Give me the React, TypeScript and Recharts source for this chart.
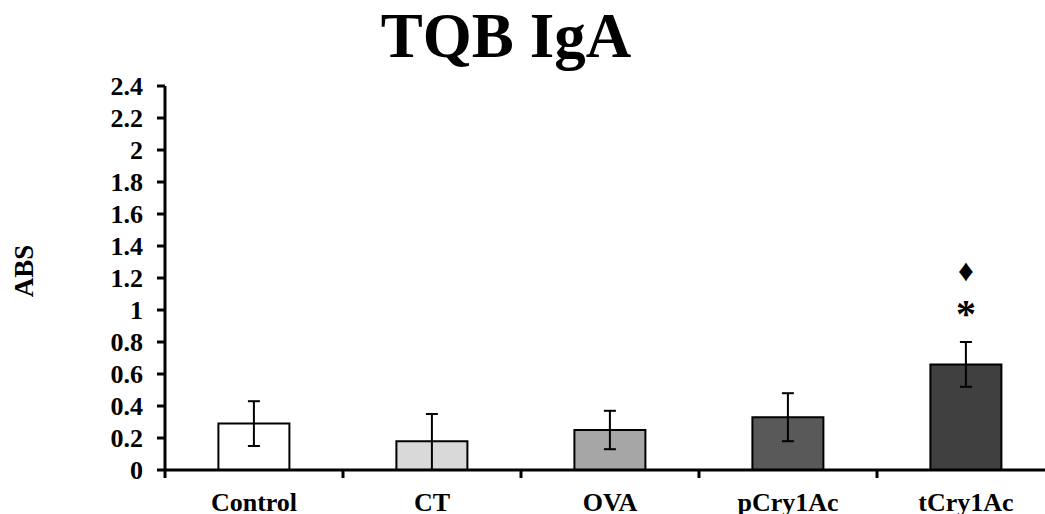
import React from 'react';
import { BarChart, Bar, XAxis, YAxis, ErrorBar, Cell, LabelList } from 'recharts';

// values
const groups = ['Control', 'CT', 'OVA', 'pCry1Ac', 'tCry1Ac'];
const absMeans = [0.29, 0.18, 0.25, 0.33, 0.66];
const absErrors: [number, number][] = [
  [0.14, 0.14],
  [0.18, 0.17],
  [0.12, 0.12],
  [0.15, 0.15],
  [0.14, 0.14],
];
const starMarks = ['', '', '', '', '*'];
const diamondMarks = ['', '', '', '', '\u2666'];
const barFills = ['#ffffff', '#d9d9d9', '#a6a6a6', '#595959', '#404040'];
const yTicks = [0, 0.2, 0.4, 0.6, 0.8, 1, 1.2, 1.4, 1.6, 1.8, 2, 2.2, 2.4];

const data = groups.map((g, i) => ({
  group: g,
  abs: absMeans[i],
  err: absErrors[i],
  star: starMarks[i],
  diamond: diamondMarks[i],
}));

const FONT = '"Liberation Serif", "Times New Roman", serif';
const TICK_SIZE = 8;
const TICK_MARGIN = 15;

const CategoryTick: React.FC<any> = ({ x, y, payload }) => {
  const half = payload?.offset ?? 89;
  const axisY = y - TICK_SIZE - TICK_MARGIN;
  return (
    <g>
      <line x1={x - half} x2={x - half} y1={axisY} y2={axisY + TICK_SIZE} stroke="#000" strokeWidth={3} />
      <text x={x} y={y} dy="0.71em" textAnchor="middle" fontFamily={FONT} fontWeight="bold" fontSize={26} fill="#000">
        {payload.value}
      </text>
    </g>
  );
};

const MarkLabel = (offset: number, size: number) => (props: any) => {
  const { x, y, width, value } = props;
  if (!value) return null;
  return (
    <text x={Number(x) + Number(width) / 2} y={Number(y) - offset} textAnchor="middle" fontFamily={FONT} fontWeight="bold" fontSize={size} fill="#000">
      {value}
    </text>
  );
};

const AbsLabel = () => (
  <text x={24} y={271} transform="rotate(-90 24 271)" textAnchor="middle" dominantBaseline="central" fontFamily={FONT} fontWeight="bold" fontSize={27} fill="#000">
    ABS
  </text>
);

export default function App() {
  return (
    <div style={{ position: 'absolute', left: 0, top: 0, width: 1045, height: 514, overflow: 'hidden', background: '#fff' }}>
      <div
        style={{
          position: 'absolute',
          top: 5,
          left: 0,
          width: 1012,
          textAlign: 'center',
          fontFamily: FONT,
          fontWeight: 'bold',
          fontSize: 63,
          lineHeight: 1,
          color: '#000',
        }}
      >
        TQB IgA
      </div>
      <BarChart width={1060} height={514} data={data} margin={{ top: 86, right: 5, bottom: 0, left: 0 }} barCategoryGap="30%">
        <XAxis
          dataKey="group"
          height={44}
          axisLine={{ stroke: '#000', strokeWidth: 3 }}
          tickLine={false}
          tickSize={TICK_SIZE}
          tickMargin={TICK_MARGIN}
          tick={<CategoryTick />}
          interval={0}
        />
        <YAxis
          width={165}
          domain={[0, 2.4]}
          ticks={yTicks}
          interval={0}
          axisLine={{ stroke: '#000', strokeWidth: 3 }}
          tickLine={{ stroke: '#000', strokeWidth: 3 }}
          tickSize={TICK_SIZE}
          tickMargin={TICK_MARGIN - 1}
          tick={{ fill: '#000', fontFamily: FONT, fontWeight: 'bold', fontSize: 26 }}
          label={AbsLabel}
        />
        <Bar dataKey="abs" stroke="#000" strokeWidth={2} isAnimationActive={false}>
          {data.map((d, i) => (
            <Cell key={d.group} fill={barFills[i]} />
          ))}
          <ErrorBar dataKey="err" width={6} stroke="#000" strokeWidth={2} direction="y" />
          <LabelList dataKey="star" content={MarkLabel(37, 40)} />
          <LabelList dataKey="diamond" content={MarkLabel(83, 31)} />
        </Bar>
      </BarChart>
    </div>
  );
}
